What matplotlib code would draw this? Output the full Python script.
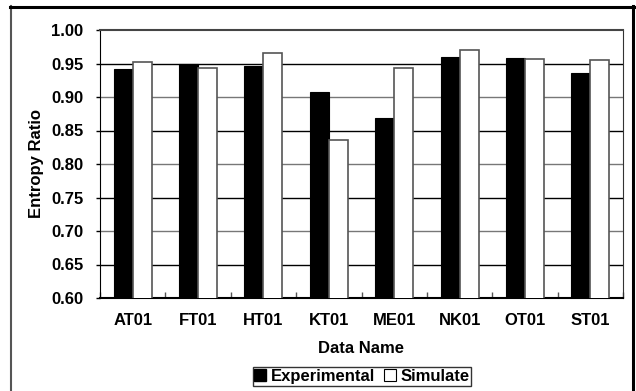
import matplotlib
matplotlib.use("Agg")
import matplotlib.pyplot as plt
from matplotlib.lines import Line2D
import numpy as np

categories = ["AT01", "FT01", "HT01", "KT01", "ME01", "NK01", "OT01", "ST01"]
experimental = [0.942, 0.950, 0.947, 0.908, 0.869, 0.959, 0.958, 0.936]
simulate = [0.952, 0.943, 0.965, 0.836, 0.943, 0.970, 0.956, 0.955]
yticks = [0.60, 0.65, 0.70, 0.75, 0.80, 0.85, 0.90, 0.95, 1.00]

plt.rcParams['font.family'] = ['Liberation Sans', 'DejaVu Sans']
plt.rcParams['font.weight'] = 'bold'
FS = 12

W, H = 636, 391
fig = plt.figure(figsize=(W / 100, H / 100), dpi=100)
ax = fig.add_axes([100 / W, 1 - 298 / H, (623 - 100) / W, (298 - 30) / H])

x = np.arange(len(categories))
bw = 0.29
ax.bar(x - bw / 2, experimental, bw, color='black', edgecolor='black', linewidth=0.8, zorder=3)
ax.bar(x + bw / 2, simulate, bw, color='white', edgecolor='#555555', linewidth=1.2, zorder=3)

ax.set_ylim(0.60, 1.00)
ax.set_xlim(-0.5, len(categories) - 0.5)
ax.set_yticks(yticks)
ax.set_yticklabels([f"{v:.2f}" for v in yticks], fontsize=FS, fontweight='bold')
for i, v in enumerate(yticks[1:-1]):
    col = 'black' if round(v * 100) % 10 == 5 else '#777777'
    ax.axhline(v, color=col, linewidth=1.0, zorder=1)

ax.set_xticks(x)
ax.set_xticklabels(categories, fontsize=FS, fontweight='bold')
ax.tick_params(axis='x', length=0, pad=11)
ax.set_xticks(np.arange(-0.5, len(categories) + 0.5, 1), minor=True)
ax.tick_params(axis='x', which='minor', direction='in', length=4, width=1, color='#555555')
ax.tick_params(axis='y', direction='out', length=3, width=1, pad=9)

ax.spines['top'].set_color('#444444')
ax.spines['top'].set_linewidth(1.5)
ax.spines['right'].set_color('#333333')
ax.spines['left'].set_color('black')
ax.spines['bottom'].set_color('black')
ax.spines['bottom'].set_linewidth(1.5)

ax.set_ylabel("Entropy Ratio", fontsize=FS, fontweight='bold', labelpad=5)
ax.set_xlabel("Data Name", fontsize=FS, fontweight='bold', labelpad=9)

handles = [
    Line2D([], [], marker='s', linestyle='none', markersize=9, markerfacecolor='black', markeredgecolor='black'),
    Line2D([], [], marker='s', linestyle='none', markersize=9, markerfacecolor='white', markeredgecolor='black', markeredgewidth=0.8),
]
leg = fig.legend(handles, ["Experimental", "Simulate"], loc='center',
                 bbox_to_anchor=(362 / W, 1 - 376.5 / H), ncol=2, frameon=True,
                 fancybox=False, edgecolor='black', prop={'weight': 'bold', 'size': FS},
                 handlelength=0.7, handletextpad=0.3, columnspacing=0.5, borderpad=0.1,
                 borderaxespad=0)
leg.get_frame().set_linewidth(1.0)

# outer frame
fig.add_artist(Line2D([10.5 / W, 10.5 / W], [0, 1 - 6 / H], color='#555555', linewidth=1.5, transform=fig.transFigure))
fig.add_artist(Line2D([10 / W, 634 / W], [1 - 6.5 / H, 1 - 6.5 / H], color='black', linewidth=2.2, transform=fig.transFigure))
fig.add_artist(Line2D([633 / W, 633 / W], [0, 1 - 6 / H], color='black', linewidth=2.2, transform=fig.transFigure))

fig.savefig("out.png", dpi=100)
